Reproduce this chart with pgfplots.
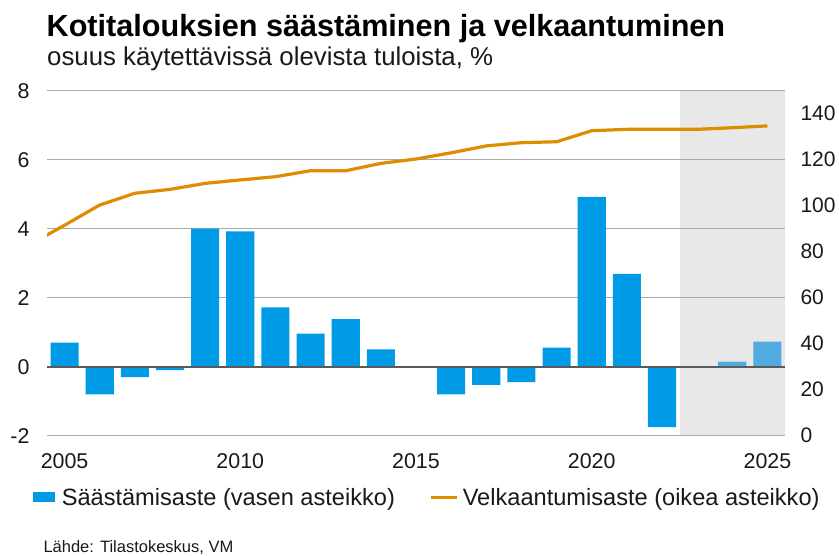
\documentclass[border=0pt]{standalone}
\usepackage{fontspec}
\setmainfont{Liberation Sans}
\usepackage{pgfplots}
\pgfplotsset{compat=1.18}
\definecolor{barblue}{RGB}{0,155,230}
\definecolor{fcblue}{RGB}{80,172,224}
\definecolor{lineorange}{RGB}{222,140,0}
\definecolor{gridgray}{RGB}{170,170,170}
\definecolor{zerogray}{RGB}{90,90,90}
\definecolor{shade}{RGB}{232,232,232}
\definecolor{txt}{RGB}{25,25,25}
\begin{document}
\begin{tikzpicture}
\node[anchor=base west, font=\fontsize{30.6}{36}\selectfont\bfseries, inner sep=0] at (46.5pt,519.3pt) {Kotitalouksien säästäminen ja velkaantuminen};
\node[anchor=base west, font=\fontsize{25.8}{30}\selectfont, text=txt, inner sep=0] at (47pt,490pt) {osuus käytettävissä olevista tuloista, \%};
\node[anchor=base west, font=\fontsize{16.5}{19}\selectfont, text=txt, inner sep=0] at (43.3pt,3pt) {Lähde: Tilastokeskus, VM};
\begin{axis}[
  set layers,
  scale only axis, width=738pt, height=345pt,
  at={(47pt,120.3pt)}, anchor=south west,
  xmin=2004.5, xmax=2025.5, ymin=-2, ymax=8,
  xtick={2005,2010,2015,2020,2025}, ytick={-2,0,...,8},
  axis line style={draw=none}, major tick length=0pt,
  ymajorgrids, grid style={gridgray, line width=1.2pt},
  /pgf/number format/assume math mode=true,
  /pgf/number format/1000 sep={},
  tick label style={font=\fontsize{21.4}{24}\selectfont, text=txt},
  yticklabel style={xshift=-14pt},
  xticklabel style={yshift=-14pt},
  bar width=0.8,
  legend style={at={(-0.0186,-0.179)}, anchor=west, draw=none, fill=none,
    inner sep=0pt, outer sep=0pt,
    legend columns=2, font=\fontsize{23.6}{27}\selectfont, text=txt,
    /tikz/every even column/.append style={column sep=32pt}},
]
\addplot[fill=shade, draw=none, forget plot, on layer=axis background]
  coordinates {(2022.5,-2) (2022.5,8) (2025.5,8) (2025.5,-2)} -- cycle;
\addplot[ybar, bar shift=0pt, fill=barblue, draw=none,
  legend image code/.code={\fill[barblue] (0pt,-5pt) rectangle (21.7pt,5pt); \path (26.5pt,0pt);}]
  coordinates {(2005,0.7) (2006,-0.8) (2007,-0.3) (2008,-0.1) (2009,4.0) (2010,3.92)
  (2011,1.72) (2012,0.96) (2013,1.38) (2014,0.5) (2015,0) (2016,-0.8) (2017,-0.53)
  (2018,-0.45) (2019,0.55) (2020,4.92) (2021,2.69) (2022,-1.75) (2023,0)};
\addlegendentry{Säästämisaste (vasen asteikko)}
\addplot[ybar, bar shift=0pt, fill=fcblue, draw=none, forget plot]
  coordinates {(2024,0.15) (2025,0.73)};
\addlegendimage{legend image code/.code={\draw[lineorange, line width=3.3pt] (0pt,0pt) -- (26.7pt,0pt); \path (30pt,0pt);}}
\addlegendentry{Velkaantumisaste (oikea asteikko)}
\draw[zerogray, line width=2pt] (axis cs:2004.5,0) -- (axis cs:2025.5,0);
\end{axis}
\begin{axis}[
  scale only axis, width=738pt, height=345pt,
  at={(47pt,120.3pt)}, anchor=south west,
  xmin=2004.5, xmax=2025.5, ymin=0, ymax=150,
  axis x line=none, axis y line*=right,
  axis line style={draw=none}, major tick length=0pt,
  ytick={0,20,...,140},
  /pgf/number format/assume math mode=true,
  tick label style={font=\fontsize{21}{24}\selectfont, text=txt},
  yticklabel style={xshift=12pt},
]
\addplot[lineorange, line width=3.2pt] coordinates {(2004,83) (2005,91.5) (2006,100.3)
  (2007,105.4) (2008,107.1) (2009,109.7) (2010,111.2) (2011,112.6) (2012,115.2)
  (2013,115.2) (2014,118.4) (2015,120.3) (2016,123) (2017,126) (2018,127.4)
  (2019,127.8) (2020,132.6) (2021,133.2) (2022,133.2) (2023,133.2) (2024,133.9)
  (2025,134.7)};
\end{axis}
\path (0pt,0pt) rectangle (839pt,556pt);
\end{tikzpicture}
\end{document}
